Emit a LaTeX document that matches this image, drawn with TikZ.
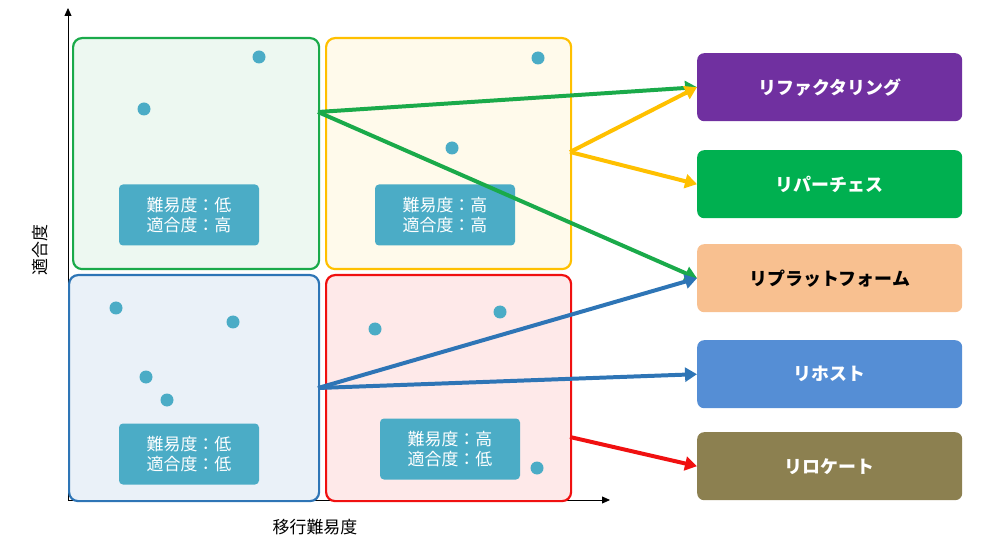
\documentclass[tikz,border=0pt]{standalone}
\usepackage{fontspec}
\setmainfont{Noto Sans CJK JP}
\usetikzlibrary{arrows.meta}
\definecolor{tealc}{HTML}{4BACC6}
\definecolor{greenc}{HTML}{1AAA4A}
\definecolor{yellowc}{HTML}{FFC000}
\definecolor{bluec}{HTML}{2E75B6}
\definecolor{redc}{HTML}{F01010}
\definecolor{purplec}{HTML}{7030A0}
\definecolor{greenr}{HTML}{00B050}
\definecolor{oranger}{HTML}{F8C090}
\definecolor{bluer}{HTML}{558ED5}
\definecolor{olivec}{HTML}{8C8050}
\tikzset{
  quad/.style={draw,line width=2.2pt,rounded corners=9pt,anchor=north west},
  lab/.style={fill=tealc,rounded corners=4pt,text=white,font=\fontsize{17}{20}\selectfont,align=left,minimum width=140\pxu,minimum height=61\pxu,inner sep=2pt},
  res/.style={rounded corners=7pt,text=white,font=\bfseries\fontsize{18}{20}\selectfont,minimum width=265\pxu,minimum height=68\pxu,anchor=north west},
  dot/.style={circle,fill=tealc,inner sep=0pt,minimum size=13\pxu},
  arr/.style={line width=4pt,-{Triangle[length=12pt,width=14pt]}}
}
\newlength{\pxu}\setlength{\pxu}{1bp}
\begin{document}
\begin{tikzpicture}[x=1bp,y=-1bp]
\useasboundingbox (0,0) rectangle (1000,554);

%% - axes
\draw[thick,-{Triangle[length=8pt,width=7pt]}] (68,500) -- (68,8);
\draw[thick,-{Triangle[length=8pt,width=7pt]}] (68,500) -- (610,500);
\node[rotate=90,font=\fontsize{17}{20}\selectfont] (yl) at (40,250) {適合度};
\node[font=\fontsize{17}{20}\selectfont] (xl) at (315,527) {移行難易度};

%% - quadrants
\node[quad,draw=greenc,fill=greenc!8,minimum width=246\pxu,minimum height=231\pxu] (tl) at (72,37) {};
\node[quad,draw=yellowc,fill=yellowc!8,minimum width=245\pxu,minimum height=231\pxu] (tr) at (325,37) {};
\node[quad,draw=bluec,fill=bluec!10,minimum width=250\pxu,minimum height=226\pxu] (bl) at (68,274) {};
\node[quad,draw=redc,fill=redc!9,minimum width=245\pxu,minimum height=226\pxu] (br) at (325,274) {};

\node[lab] (ltl) at (189,215) {難易度：低\\適合度：高};
\node[lab] (ltr) at (445,215) {難易度：高\\適合度：高};
\node[lab] (lbl) at (189,454) {難易度：低\\適合度：低};
\node[lab] (lbr) at (450,449) {難易度：高\\適合度：低};

%% - dots
\foreach \x/\y in {259/57,144/109,538/58,452/148,116/308,233/322,146/377,167/400,375/329,500/312,537/468}
  \node[dot] at (\x,\y) {};

%% - results
\node[res,fill=purplec] (refac) at (697,53) {リファクタリング};
\node[res,fill=greenr] (repur) at (697,150) {リパーチェス};
\node[res,fill=oranger,text=black] (replat) at (697,244) {リプラットフォーム};
\node[res,fill=bluer] (rehost) at (697,340) {リホスト};
\node[res,fill=olivec] (reloc) at (697,432) {リロケート};

%% - arrows
\coordinate (g0) at (318,112);
\coordinate (y0) at (570,152);
\coordinate (b0) at (318,388);
\coordinate (r0) at (570,437);
\draw[arr,greenc] (g0) -- (refac.west);
\draw[arr,greenc] (g0) -- (replat.west);
\draw[arr,yellowc] (y0) -- (refac.west);
\draw[arr,yellowc] (y0) -- (repur.west);
\draw[arr,bluec] (b0) -- (replat.west);
\draw[arr,bluec] (b0) -- (rehost.west);
\draw[arr,redc] (r0) -- (reloc.west);

\end{tikzpicture}
\end{document}
